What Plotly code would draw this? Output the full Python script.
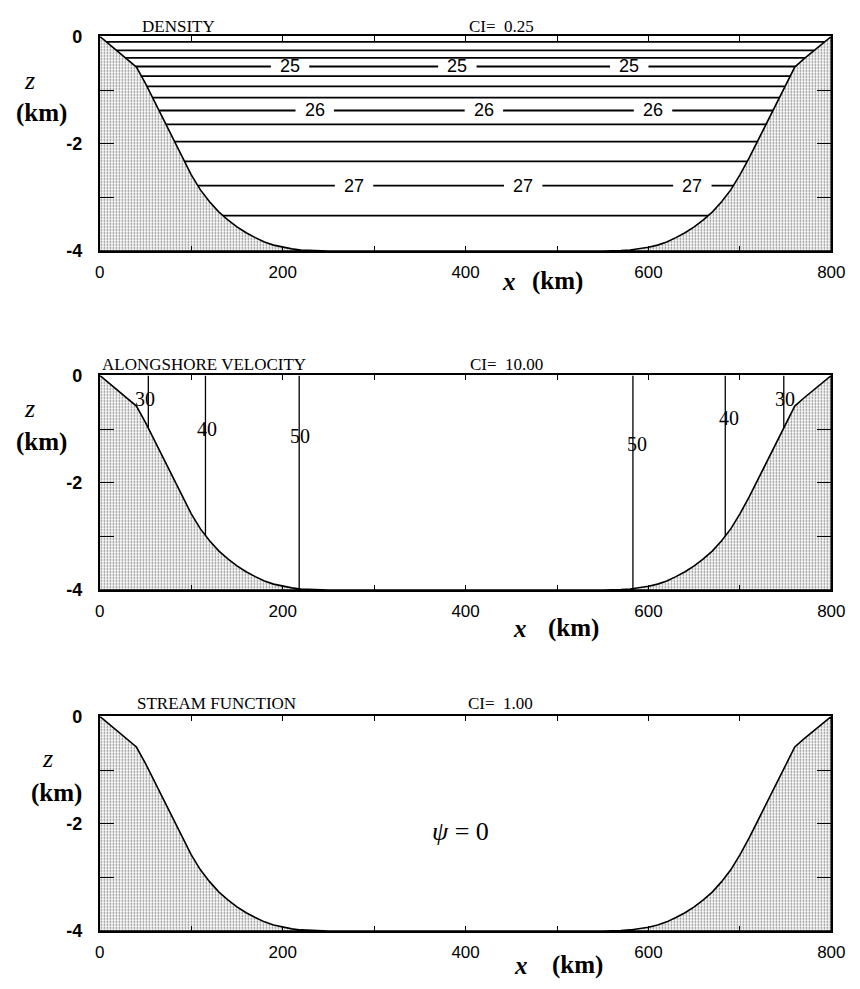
import plotly.graph_objects as go

W, H = 860, 989

# ---------------- data ----------------
# bottom topography (km, km)
bathy_x = [0, 10, 20, 30, 40, 50, 60, 70, 80, 90, 100, 110, 120, 130, 140, 150, 160, 170, 180,
           190, 200, 210, 220, 230, 240, 250,
           550, 560, 570, 580, 590, 600, 610, 620, 630, 640, 650, 660, 670, 680, 690, 700,
           710, 720, 730, 740, 750, 760, 770, 780, 790, 800]
bathy_z = [0, -0.14, -0.28, -0.42, -0.57, -0.88, -1.22, -1.58, -1.93, -2.27, -2.58, -2.86, -3.08,
           -3.27, -3.42, -3.55, -3.66, -3.75, -3.83, -3.89, -3.93, -3.96, -3.98, -3.99, -4.0, -4.0,
           -4.0, -4.0, -3.99, -3.98, -3.96, -3.93, -3.89, -3.83, -3.75, -3.66, -3.55, -3.42,
           -3.27, -3.08, -2.86, -2.58, -2.27, -1.93, -1.58, -1.22, -0.88, -0.57, -0.42, -0.28,
           -0.14, 0]

# density contours (sigma units) and their depths (km)
rho_levels = [24.25, 24.5, 24.75, 25.0, 25.25, 25.5, 25.75, 26.0, 26.25, 26.5, 26.75, 27.0, 27.25]
rho_depths = [-0.10, -0.26, -0.40, -0.56, -0.74, -0.93, -1.14, -1.38, -1.64, -1.96, -2.33, -2.78, -3.34]
rho_label_levels = [25.0, 26.0, 27.0]
rho_label_x = [[208, 391, 579], [235, 420, 605], [278, 463, 648]]

# alongshore velocity contours
vel_levels = [30, 40, 50, 50, 40, 30]
vel_x = [53, 115.5, 218, 583, 684, 748]
vel_label_x = [49, 117, 219, 587, 688, 749]
vel_label_z = [-0.44, -0.99, -1.13, -1.28, -0.80, -0.44]

x_tickvals = [0, 100, 200, 300, 400, 500, 600, 700, 800]
x_ticktext = ["0", "", "200", "", "400", "", "600", "", "800"]
z_tickvals = [0, -1, -2, -3, -4]
z_ticktext = ["0", "", "-2", "", "-4"]

panel_titles = ["DENSITY", "ALONGSHORE VELOCITY", "STREAM FUNCTION"]
panel_ci = ["CI=\u00a0\u00a00.25", "CI=\u00a0\u00a010.00", "CI=\u00a0\u00a01.00"]

# ---------------- layout geometry (pixels) ----------------
LEFT, RIGHT = 97, 845
panel_px = [(27, 246), (373, 592), (721, 940)]

def px_x(p):
    return p / W

def px_y(p):
    return 1 - p / H

SERIF = "Liberation Serif"
SANS = "Liberation Sans"

fig = go.Figure()
annotations = []

for i, (top, bot) in enumerate(panel_px):
    sfx = "" if i == 0 else str(i + 1)
    xa, ya = "x" + sfx, "y" + sfx

    # contour lines
    if i == 0:
        lx, ly = [], []
        for lev, d in zip(rho_levels, rho_depths):
            cuts = [0]
            if lev in rho_label_levels:
                for xl in rho_label_x[rho_label_levels.index(lev)]:
                    cuts += [xl - 21, xl + 21]
            cuts.append(800)
            for k in range(0, len(cuts), 2):
                lx += [cuts[k], cuts[k + 1], None]
                ly += [d, d, None]
        fig.add_trace(go.Scatter(x=lx, y=ly, mode="lines", xaxis=xa, yaxis=ya,
                                 line=dict(color="black", width=1.8), hoverinfo="skip",
                                 showlegend=False))
        for lev, xs in zip(rho_label_levels, rho_label_x):
            d = rho_depths[rho_levels.index(lev)]
            for xl in xs:
                annotations.append(dict(x=xl, y=d, xref=xa, yref=ya, text=str(int(lev)),
                                        showarrow=False, xanchor="center", yanchor="middle",
                                        font=dict(family=SANS, size=18, color="black")))
    elif i == 1:
        lx, ly = [], []
        for xv in vel_x:
            lx += [xv, xv, None]
            ly += [0, -4, None]
        fig.add_trace(go.Scatter(x=lx, y=ly, mode="lines", xaxis=xa, yaxis=ya,
                                 line=dict(color="black", width=1.3), hoverinfo="skip",
                                 showlegend=False))
        for lev, xl, zl in zip(vel_levels, vel_label_x, vel_label_z):
            annotations.append(dict(x=xl, y=zl, xref=xa, yref=ya, text=str(lev),
                                    showarrow=False, xanchor="center", yanchor="middle",
                                    font=dict(family=SERIF, size=20, color="black")))
    else:
        annotations.append(dict(x=394, y=-2.14, xref=xa, yref=ya,
                                text="<i>\u03c8</i> = 0", showarrow=False,
                                xanchor="center", yanchor="middle",
                                font=dict(family=SERIF, size=26, color="black")))

    # topography (stippled)
    fig.add_trace(go.Scatter(x=bathy_x + [800, 0], y=bathy_z + [-4, -4], mode="lines",
                             fill="toself", xaxis=xa, yaxis=ya,
                             fillcolor="white",
                             fillpattern=dict(shape=".", size=3, solidity=0.28,
                                              fgcolor="black", bgcolor="white"),
                             line=dict(color="black", width=1.6), hoverinfo="skip",
                             showlegend=False))

    common = dict(showline=True, mirror="ticks", linecolor="black", linewidth=1.8,
                  ticks="inside", tickcolor="black", showgrid=False, zeroline=False,
                  fixedrange=True)
    fig.layout["xaxis" + sfx] = dict(domain=[px_x(LEFT), px_x(RIGHT)], range=[0, 800],
                                     anchor=ya, tickvals=x_tickvals, ticktext=x_ticktext,
                                     ticklen=5, tickwidth=1.3, ticklabelstandoff=5,
                                     tickfont=dict(family=SANS, size=17, color="black"),
                                     **common)
    fig.layout["yaxis" + sfx] = dict(domain=[px_y(bot), px_y(top)], range=[-4, 0],
                                     anchor=xa, tickvals=z_tickvals, ticktext=z_ticktext,
                                     ticklen=14, tickwidth=1.3, ticklabelstandoff=12,
                                     tickfont=dict(family=SANS, size=18, color="black",
                                                   weight="bold"),
                                     **common)

# panel titles
title_x = [138, 97, 133]
ci_x = [472, 473, 471]
title_dy = [10, 11, 13]
for i, (top, bot) in enumerate(panel_px):
    annotations.append(dict(x=px_x(title_x[i]), y=px_y(top - title_dy[i]), xref="paper",
                            yref="paper", text=panel_titles[i], showarrow=False,
                            xanchor="left", yanchor="middle",
                            font=dict(family=SERIF, size=17, color="black")))
    annotations.append(dict(x=px_x(ci_x[i]), y=px_y(top - title_dy[i]), xref="paper",
                            yref="paper", text=panel_ci[i], showarrow=False,
                            xanchor="left", yanchor="middle",
                            font=dict(family=SERIF, size=17, color="black")))

# axis titles
zlab = [(25, 72, 37, 105), (25, 407, 37, 441), (43, 764, 53, 799)]
xlab = [(515, 537, 277), (527, 553, 631), (528, 557, 975)]
for (zx, zy, kx, ky) in zlab:
    annotations.append(dict(x=px_x(zx), y=px_y(zy), xref="paper", yref="paper",
                            text="<i>z</i>", showarrow=False, xanchor="center",
                            yanchor="middle", font=dict(family=SERIF, size=26, color="black")))
    annotations.append(dict(x=px_x(kx), y=px_y(ky), xref="paper", yref="paper",
                            text="<b>(km)</b>", showarrow=False, xanchor="center",
                            yanchor="middle", font=dict(family=SERIF, size=25, color="black")))
for (xx, kx, yy) in xlab:
    annotations.append(dict(x=px_x(xx), y=px_y(yy), xref="paper", yref="paper",
                            text="<i><b>x</b></i>", showarrow=False, xanchor="center",
                            yanchor="middle", font=dict(family=SERIF, size=25, color="black")))
    annotations.append(dict(x=px_x(kx), y=px_y(yy), xref="paper", yref="paper",
                            text="<b>(km)</b>", showarrow=False, xanchor="left",
                            yanchor="middle", font=dict(family=SERIF, size=25, color="black")))

fig.update_layout(width=W, height=H, margin=dict(l=0, r=0, t=0, b=0),
                  paper_bgcolor="white", plot_bgcolor="white",
                  annotations=annotations, showlegend=False)

fig.write_html("out.html")
